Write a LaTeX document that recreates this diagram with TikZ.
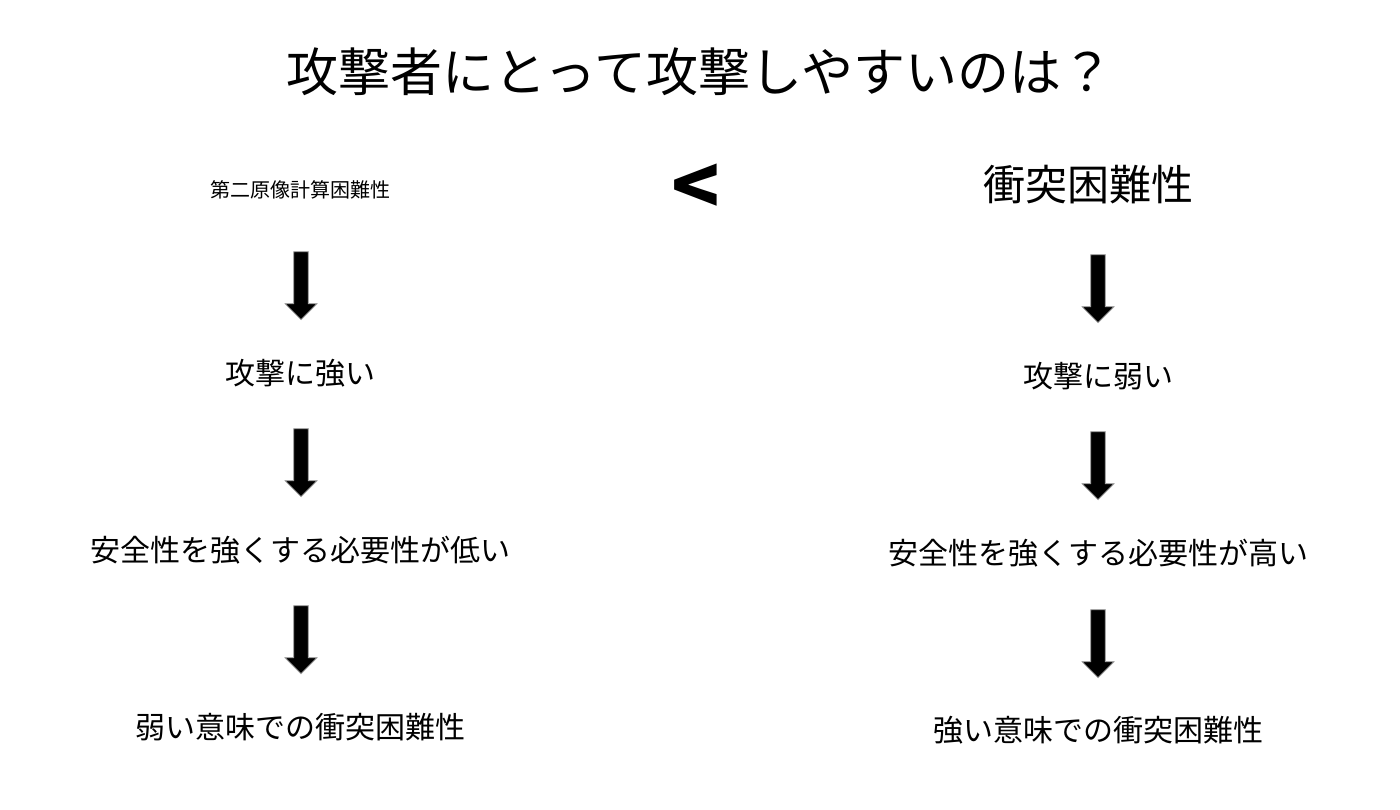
\documentclass[tikz,border=0pt]{standalone}
\usepackage{fontspec}
\setmainfont{Noto Sans CJK JP}
\usetikzlibrary{positioning}
\usetikzlibrary{shapes.arrows}
\usetikzlibrary{calc}

\begin{document}
\begin{tikzpicture}[
	x=0.5pt, y=-0.5pt,
	item/.style={inner sep=0pt, font=\fontsize{15}{18}\selectfont},
	downarrow/.style={single arrow, draw=gray!70, fill=black, line width=0.4pt,
		shape border rotate=270, minimum height=34pt, minimum width=16pt,
		single arrow head extend=4pt, inner sep=3.2pt}]

\useasboundingbox (0,0) rectangle (1400,809);

% Title
\node[inner sep=0pt, font=\fontsize{26}{30}\selectfont] (title) at (700,72) {攻撃者にとって攻撃しやすいのは？};

% left column
\node[item, font=\fontsize{10}{12}\selectfont] (lhard) at (300,190) {第二原像計算困難性};
\node[item] (lstrong) at (300,373) {攻撃に強い};
\node[item] (lneed) at (300,550) {安全性を強くする必要性が低い};
\node[item] (lweak) at (300,727) {弱い意味での衝突困難性};

% right column
\node[item, font=\fontsize{21}{24}\selectfont] (rhard) at (1088,185) {衝突困難性};
\node[item] (rweak) at (1098,376) {攻撃に弱い};
\node[item] (rneed) at (1098,553) {安全性を強くする必要性が高い};
\node[item] (rstrong) at (1098,730) {強い意味での衝突困難性};

% comparison
\node[inner sep=0pt, font=\fontsize{40}{40}\selectfont\bfseries] (less) at (696,190) {<};

% arrows
\node[downarrow] (la1) at (301,282) {};
\node[downarrow] (la2) at (301,459) {};
\node[downarrow] (la3) at (301,636) {};
\node[downarrow] (ra1) at (1098,285) {};
\node[downarrow] (ra2) at (1098,462) {};
\node[downarrow] (ra3) at (1098,640) {};

\end{tikzpicture}
\end{document}
